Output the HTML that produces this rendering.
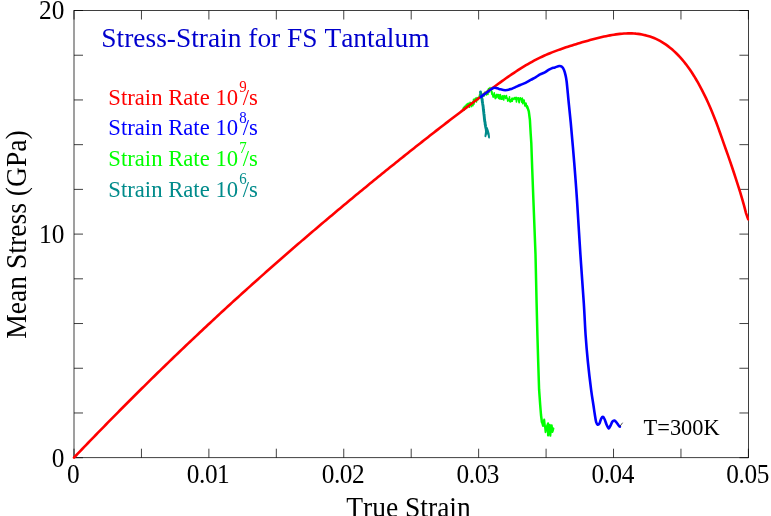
<!DOCTYPE html>
<html>
<head>
<meta charset="utf-8">
<title>Stress-Strain for FS Tantalum</title>
<style>
html,body{margin:0;padding:0;background:#fff;}
body{width:771px;height:516px;overflow:hidden;font-family:"Liberation Serif",serif;}
svg{display:block;will-change:transform;}
</style>
</head>
<body>
<svg width="771" height="516" viewBox="0 0 771 516">
<g stroke="#000" stroke-width="0.75" fill="none" shape-rendering="auto">
<rect x="74.00" y="10.50" width="674.40" height="447.20"/>
<path d="M74.00,457.70V448.70M74.00,10.50V19.50M141.44,457.70V448.70M141.44,10.50V19.50M208.88,457.70V448.70M208.88,10.50V19.50M276.32,457.70V448.70M276.32,10.50V19.50M343.76,457.70V448.70M343.76,10.50V19.50M411.20,457.70V448.70M411.20,10.50V19.50M478.64,457.70V448.70M478.64,10.50V19.50M546.08,457.70V448.70M546.08,10.50V19.50M613.52,457.70V448.70M613.52,10.50V19.50M680.96,457.70V448.70M680.96,10.50V19.50M748.40,457.70V448.70M748.40,10.50V19.50M74.00,457.70H83.00M748.40,457.70H739.40M74.00,412.98H83.00M748.40,412.98H739.40M74.00,368.26H83.00M748.40,368.26H739.40M74.00,323.54H83.00M748.40,323.54H739.40M74.00,278.82H83.00M748.40,278.82H739.40M74.00,234.10H83.00M748.40,234.10H739.40M74.00,189.38H83.00M748.40,189.38H739.40M74.00,144.66H83.00M748.40,144.66H739.40M74.00,99.94H83.00M748.40,99.94H739.40M74.00,55.22H83.00M748.40,55.22H739.40M74.00,10.50H83.00M748.40,10.50H739.40"/>
</g>
<g fill="none" stroke-linejoin="round" stroke-linecap="round">
<path d="M463.00,108.97L463.50,107.44L464.00,110.36L464.50,106.17L465.00,108.85L465.50,107.34L466.00,104.93L466.50,107.52L467.00,104.04L467.50,106.28L468.00,103.50L468.50,103.26L469.00,105.08L469.50,107.36L470.00,102.34L470.50,102.62L471.00,104.91L471.50,106.65L472.00,103.82L472.50,102.26L473.00,105.70L473.50,99.19L474.00,104.17L474.50,100.04L475.00,98.71L475.50,98.16L476.00,99.04L476.50,102.02L477.00,97.45L477.50,99.72L478.00,99.72L478.50,97.59L479.00,98.37L479.50,94.80L480.00,94.40L480.50,94.99L481.00,97.75L481.50,95.71L482.00,94.59L482.50,96.01L483.00,94.76L483.50,93.37L484.00,96.27L484.50,95.26L485.00,91.89L485.50,93.70L486.00,93.00L486.50,94.94L487.00,93.61L487.50,90.32L488.00,94.52L488.50,88.46L489.00,90.07L489.50,91.94L490.00,87.58L490.50,89.43" stroke="#00ff00" stroke-width="1.5"/>
<clipPath id="pc"><rect x="72" y="5" width="677.1" height="454.2"/></clipPath>
<path d="M74.00,457.60L76.00,455.51L78.00,453.42L80.00,451.33L82.00,449.25L84.00,447.17L86.00,445.09L88.00,443.02L90.00,440.94L92.00,438.88L94.00,436.81L96.00,434.75L98.00,432.70L100.00,430.64L102.00,428.59L104.00,426.54L106.00,424.50L108.00,422.46L110.00,420.42L112.00,418.39L114.00,416.36L116.00,414.33L118.00,412.30L120.00,410.28L122.00,408.27L124.00,406.25L126.00,404.24L128.00,402.24L130.00,400.23L132.00,398.23L134.00,396.24L136.00,394.24L138.00,392.25L140.00,390.27L142.00,388.29L144.00,386.31L146.00,384.33L148.00,382.36L150.00,380.39L152.00,378.43L154.00,376.46L156.00,374.51L158.00,372.55L160.00,370.60L162.00,368.65L164.00,366.71L166.00,364.77L168.00,362.83L170.00,360.90L172.00,358.97L174.00,357.04L176.00,355.11L178.00,353.19L180.00,351.28L182.00,349.37L184.00,347.46L186.00,345.55L188.00,343.65L190.00,341.75L192.00,339.85L194.00,337.96L196.00,336.07L198.00,334.19L200.00,332.30L202.00,330.43L204.00,328.55L206.00,326.68L208.00,324.81L210.00,322.95L212.00,321.09L214.00,319.23L216.00,317.37L218.00,315.52L220.00,313.67L222.00,311.83L224.00,309.99L226.00,308.15L228.00,306.31L230.00,304.48L232.00,302.66L234.00,300.83L236.00,299.01L238.00,297.19L240.00,295.38L242.00,293.56L244.00,291.76L246.00,289.95L248.00,288.15L250.00,286.35L252.00,284.55L254.00,282.76L256.00,280.97L258.00,279.19L260.00,277.40L262.00,275.62L264.00,273.85L266.00,272.07L268.00,270.30L270.00,268.53L272.00,266.77L274.00,265.01L276.00,263.25L278.00,261.49L280.00,259.74L282.00,257.99L284.00,256.24L286.00,254.50L288.00,252.76L290.00,251.02L292.00,249.28L294.00,247.55L296.00,245.82L298.00,244.09L300.00,242.37L302.00,240.64L304.00,238.92L306.00,237.21L308.00,235.49L310.00,233.78L312.00,232.07L314.00,230.37L316.00,228.66L318.00,226.96L320.00,225.26L322.00,223.57L324.00,221.88L326.00,220.18L328.00,218.50L330.00,216.81L332.00,215.13L334.00,213.45L336.00,211.77L338.00,210.09L340.00,208.42L342.00,206.75L344.00,205.08L346.00,203.41L348.00,201.75L350.00,200.09L352.00,198.43L354.00,196.77L356.00,195.12L358.00,193.47L360.00,191.82L362.00,190.17L364.00,188.53L366.00,186.88L368.00,185.24L370.00,183.61L372.00,181.97L374.00,180.34L376.00,178.71L378.00,177.08L380.00,175.45L382.00,173.83L384.00,172.21L386.00,170.59L388.00,168.97L390.00,167.36L392.00,165.75L394.00,164.14L396.00,162.53L398.00,160.93L400.00,159.33L402.00,157.73L404.00,156.13L406.00,154.53L408.00,152.94L410.00,151.35L412.00,149.76L414.00,148.18L416.00,146.59L418.00,145.01L420.00,143.44L422.00,141.86L424.00,140.29L426.00,138.72L428.00,137.15L430.00,135.58L432.00,134.02L434.00,132.46L436.00,130.90L438.00,129.35L440.00,127.79L442.00,126.24L444.00,124.70L446.00,123.15L448.00,121.61L450.00,120.07L452.00,118.53L454.00,117.00L456.00,115.47L458.00,113.94L460.00,112.41L462.00,110.89L464.00,109.37L466.00,107.85L468.00,106.34L470.00,104.82L472.00,103.31L474.00,101.81L476.00,100.31L478.00,98.81L480.00,97.31L482.00,95.81L484.00,94.32L486.00,92.84L488.00,91.35L490.00,89.88L492.00,88.40L494.00,86.94L496.00,85.48L498.00,84.02L500.00,82.58L502.00,81.15L504.00,79.72L506.00,78.31L508.00,76.91L510.00,75.53L512.00,74.17L514.00,72.82L516.00,71.49L518.00,70.18L520.00,68.90L522.00,67.64L524.00,66.40L526.00,65.20L528.00,64.03L530.00,62.88L532.00,61.77L534.00,60.70L536.00,59.65L538.00,58.64L540.00,57.66L542.00,56.71L544.00,55.79L546.00,54.91L548.00,54.05L550.00,53.22L552.00,52.41L554.00,51.63L556.00,50.88L558.00,50.14L560.00,49.42L562.00,48.71L564.00,48.02L566.00,47.35L568.00,46.69L570.00,46.04L572.00,45.40L574.00,44.77L576.00,44.15L578.00,43.54L580.00,42.94L582.00,42.35L584.00,41.77L586.00,41.20L588.00,40.64L590.00,40.09L592.00,39.55L594.00,39.02L596.00,38.51L598.00,38.01L600.00,37.52L602.00,37.05L604.00,36.60L606.00,36.17L608.00,35.77L610.00,35.38L612.00,35.02L614.00,34.69L616.00,34.39L618.00,34.13L620.00,33.90L622.00,33.71L624.00,33.56L626.00,33.45L628.00,33.39L630.00,33.38L632.00,33.42L634.00,33.51L636.00,33.67L638.00,33.88L640.00,34.15L642.00,34.49L644.00,34.90L646.00,35.38L648.00,35.93L650.00,36.56L652.00,37.27L654.00,38.06L656.00,38.93L658.00,39.89L660.00,40.95L662.00,42.09L664.00,43.33L666.00,44.67L668.00,46.12L670.00,47.67L672.00,49.32L674.00,51.10L676.00,52.98L678.00,54.99L680.00,57.13L682.00,59.40L684.00,61.79L686.00,64.33L688.00,67.01L690.00,69.84L692.00,72.81L694.00,75.94L696.00,79.23L698.00,82.68L700.00,86.30L702.00,90.09L704.00,94.05L706.00,98.19L708.00,102.51L710.00,107.02L712.00,111.73L714.00,116.64L716.00,121.77L718.00,127.13L720.00,132.69L722.00,138.38L724.00,144.10L726.00,149.76L728.00,155.41L730.00,161.13L732.00,166.99L734.00,173.01L736.00,179.16L738.00,185.40L740.00,191.72L742.00,198.28L744.00,205.41L746.00,213.12L748.00,218.85L748.40,219.30" stroke="#ff0000" stroke-width="2.6" clip-path="url(#pc)"/>
<path d="M491.40,88.42L491.53,92.30L491.67,93.19L491.80,92.48L491.93,94.52L492.07,91.73L492.20,94.23L492.33,94.02L492.47,94.29L492.60,93.95L492.93,96.32L493.26,97.12L493.59,94.70L493.92,95.98L494.25,92.82L494.58,96.62L494.92,96.53L495.25,98.68L495.58,97.94L495.91,95.15L496.24,95.93L496.57,97.73L496.90,94.33L497.25,96.79L497.59,95.14L497.94,94.86L498.29,94.53L498.63,98.50L498.98,94.92L499.33,95.59L499.67,96.39L500.02,99.08L500.37,94.65L500.71,96.72L501.06,97.28L501.41,99.15L501.75,98.79L502.10,99.04L502.43,95.85L502.76,96.71L503.09,96.49L503.43,99.53L503.76,100.03L504.09,95.61L504.42,95.84L504.75,96.25L505.08,96.35L505.41,97.85L505.74,98.53L506.07,96.80L506.41,95.44L506.74,97.86L507.07,97.67L507.40,98.87L507.75,101.18L508.09,99.86L508.44,99.03L508.79,99.75L509.13,100.22L509.48,96.88L509.83,101.76L510.17,101.24L510.52,101.92L510.87,101.63L511.21,99.51L511.56,99.69L511.91,98.19L512.25,101.31L512.60,98.25L512.95,98.21L513.29,98.94L513.64,98.61L513.99,99.54L514.33,97.86L514.68,97.50L515.03,98.28L515.37,97.93L515.72,99.34L516.07,97.38L516.41,102.06L516.76,100.54L517.11,97.87L517.45,98.38L517.80,98.85L518.15,99.01L518.50,97.72L518.85,101.85L519.20,102.73L519.55,99.84L519.90,100.01L520.25,97.85L520.60,98.01L520.95,99.42L521.30,99.05L521.65,102.27L522.00,98.60L522.36,98.18L522.71,103.74L523.07,101.72L523.42,99.94L523.78,102.52L524.13,99.98L524.49,103.15L524.84,106.02L525.20,105.73L525.43,105.14L525.67,103.05L525.90,103.99L526.13,103.21L526.37,106.95L526.60,105.95L526.83,107.67L527.07,105.50L527.30,106.80" stroke="#00ff00" stroke-width="1.6"/>
<path d="M527.30,106.80L528.80,111.40L529.90,119.80L530.70,134.00L531.30,143.00L532.20,168.50L533.40,200.00L535.50,254.30L536.60,303.10L537.40,335.00L538.20,362.00L539.10,389.70L540.20,405.00L541.00,415.00L541.90,422.00" stroke="#00ff00" stroke-width="2.5"/>
<path d="M541.90,422.00L543.00,426.00L544.20,419.60L545.60,432.10L546.80,426.50L548.00,423.30L548.00,435.50L549.00,428.00L549.70,424.70L550.30,435.80L551.00,429.00L551.70,425.30L552.60,431.50L553.40,428.40L552.40,432.00" stroke="#00ff00" stroke-width="2.1"/>
<path d="M480.50,92.02L480.67,93.34L480.83,94.25L481.00,94.85L481.14,95.47L481.28,96.14L481.42,96.72L481.56,96.87L481.70,97.82L481.81,98.29L481.92,98.59L482.03,99.22L482.14,100.10L482.25,100.71L482.36,101.77L482.47,102.67L482.58,102.79L482.69,103.91L482.80,104.59L482.87,105.18L482.95,105.22L483.02,105.70L483.09,106.33L483.17,106.93L483.24,107.56L483.31,108.61L483.39,109.51L483.46,110.08L483.53,110.35L483.61,111.15L483.68,111.92L483.75,111.83L483.83,113.03L483.90,113.91L483.97,114.43L484.04,115.05L484.11,115.43L484.18,115.78L484.25,117.04L484.32,117.23L484.39,118.35L484.46,119.17L484.53,119.25L484.60,119.90L484.70,121.11L484.80,121.56L484.90,121.67L485.00,122.29L485.10,122.98L485.20,124.40L485.32,124.94L485.43,124.91L485.55,126.23L485.67,127.01L485.78,127.32L485.90,127.65L486.02,128.49L486.14,128.71L486.26,129.23L486.38,130.83L486.50,131.00" stroke="#008b8b" stroke-width="2.9"/>
<path d="M486.20,129.50L485.90,132.50L485.40,136.20L486.30,133.00L486.90,130.50L487.40,133.60L487.90,131.30L488.50,134.50L489.10,137.50L488.70,133.80L487.80,130.60L487.00,128.20" stroke="#008b8b" stroke-width="1.9"/>
<path d="M480.90,96.90C481.75,96.25 484.22,94.32 486.00,93.00C487.78,91.68 490.13,89.87 491.60,89.00C493.07,88.13 493.57,87.82 494.80,87.80C496.03,87.78 497.25,88.50 499.00,88.90C500.75,89.30 503.22,90.20 505.30,90.20C507.38,90.20 509.88,89.37 511.50,88.90C513.12,88.43 513.55,88.05 515.00,87.40C516.45,86.75 518.45,85.77 520.20,85.00C521.95,84.23 523.75,83.65 525.50,82.80C527.25,81.95 528.97,80.83 530.70,79.90C532.43,78.97 534.33,78.12 535.90,77.20C537.47,76.28 538.70,75.15 540.10,74.40C541.50,73.65 542.90,73.45 544.30,72.70C545.70,71.95 547.28,70.62 548.50,69.90C549.72,69.18 550.52,68.82 551.60,68.40C552.68,67.98 553.72,67.80 555.00,67.40C556.28,67.00 558.15,66.10 559.30,66.00C560.45,65.90 561.12,66.15 561.90,66.80C562.68,67.45 563.40,68.52 564.00,69.90C564.60,71.28 565.05,73.08 565.50,75.10C565.95,77.12 566.18,77.60 566.70,82.00C567.22,86.40 567.93,94.80 568.60,101.50C569.27,108.20 569.98,114.65 570.70,122.20C571.42,129.75 572.17,138.18 572.90,146.80C573.63,155.42 574.42,165.03 575.10,173.90C575.78,182.77 576.12,186.60 577.00,200.00C577.88,213.40 579.27,237.12 580.40,254.30C581.53,271.48 582.93,289.65 583.80,303.10C584.67,316.55 584.92,325.18 585.60,335.00C586.28,344.82 586.98,352.88 587.90,362.00C588.82,371.12 590.18,382.53 591.10,389.70C592.02,396.87 592.80,400.98 593.40,405.00C594.00,409.02 594.25,410.98 594.70,413.80C595.15,416.62 595.58,420.08 596.10,421.90C596.62,423.72 597.23,424.47 597.80,424.70C598.37,424.93 598.93,424.32 599.50,423.30C600.07,422.28 600.63,419.67 601.20,418.60C601.77,417.53 602.33,416.80 602.90,416.90C603.47,417.00 603.98,417.90 604.60,419.20C605.22,420.50 605.93,423.17 606.60,424.70C607.27,426.23 607.98,428.18 608.60,428.40C609.22,428.62 609.67,427.13 610.30,426.00C610.93,424.87 611.72,422.50 612.40,421.60C613.08,420.70 613.73,420.48 614.40,420.60C615.07,420.72 615.72,421.52 616.40,422.30C617.08,423.08 617.93,424.57 618.50,425.30C619.07,426.03 619.58,426.47 619.80,426.70" stroke="#0000ff" stroke-width="2.6"/>
<path d="M620.2,426 L622.4,423" stroke="#222" stroke-width="0.8"/>
</g>
<g font-family="'Liberation Serif', serif" fill="#000" style="font-kerning:none">
<text transform="translate(73.20,483.30) scale(1,1.040)" font-size="25.30" text-anchor="middle" letter-spacing="-0.45">0</text>
<text transform="translate(208.08,483.30) scale(1,1.040)" font-size="25.30" text-anchor="middle" letter-spacing="-0.45">0.01</text>
<text transform="translate(342.96,483.30) scale(1,1.040)" font-size="25.30" text-anchor="middle" letter-spacing="-0.45">0.02</text>
<text transform="translate(477.84,483.30) scale(1,1.040)" font-size="25.30" text-anchor="middle" letter-spacing="-0.45">0.03</text>
<text transform="translate(612.72,483.30) scale(1,1.040)" font-size="25.30" text-anchor="middle" letter-spacing="-0.45">0.04</text>
<text transform="translate(747.60,483.30) scale(1,1.040)" font-size="25.30" text-anchor="middle" letter-spacing="-0.45">0.05</text>
<text transform="translate(64.30,466.70) scale(1,1.040)" font-size="25.30" text-anchor="end">0</text>
<text transform="translate(64.30,242.80) scale(1,1.040)" font-size="25.30" text-anchor="end">10</text>
<text transform="translate(64.30,18.90) scale(1,1.040)" font-size="25.30" text-anchor="end">20</text>
<text transform="translate(408.50,516.60) scale(1,1.060)" font-size="27.50" text-anchor="middle">True Strain</text>
<text transform="translate(26.30,234.50) rotate(-90) scale(1,1.060)" font-size="27.60" text-anchor="middle">Mean Stress (GPa)</text>
<text transform="translate(101.30,47.40) scale(1,1.030)" font-size="27.42" text-anchor="start" fill="#0000cd">Stress-Strain for FS Tantalum</text>
<text transform="translate(108.30,104.70) scale(1,1.060)" font-size="22.70" text-anchor="start" fill="#ff0000">Strain Rate 10</text>
<text transform="translate(239.20,91.90) scale(1,1.060)" font-size="14.90" text-anchor="start" fill="#ff0000">9</text>
<text transform="translate(242.80,104.70) scale(1,1.060)" font-size="22.70" text-anchor="start" fill="#ff0000">/s</text>
<text transform="translate(108.30,135.42) scale(1,1.060)" font-size="22.70" text-anchor="start" fill="#0000ff">Strain Rate 10</text>
<text transform="translate(239.20,122.62) scale(1,1.060)" font-size="14.90" text-anchor="start" fill="#0000ff">8</text>
<text transform="translate(242.80,135.42) scale(1,1.060)" font-size="22.70" text-anchor="start" fill="#0000ff">/s</text>
<text transform="translate(108.30,166.14) scale(1,1.060)" font-size="22.70" text-anchor="start" fill="#00ff00">Strain Rate 10</text>
<text transform="translate(239.20,153.34) scale(1,1.060)" font-size="14.90" text-anchor="start" fill="#00ff00">7</text>
<text transform="translate(242.80,166.14) scale(1,1.060)" font-size="22.70" text-anchor="start" fill="#00ff00">/s</text>
<text transform="translate(108.30,196.86) scale(1,1.060)" font-size="22.70" text-anchor="start" fill="#008b8b">Strain Rate 10</text>
<text transform="translate(239.20,184.06) scale(1,1.060)" font-size="14.90" text-anchor="start" fill="#008b8b">6</text>
<text transform="translate(242.80,196.86) scale(1,1.060)" font-size="22.70" text-anchor="start" fill="#008b8b">/s</text>
<text transform="translate(643.60,435.30) scale(1,1.040)" font-size="22.40" text-anchor="start">T=300K</text>
</g>
</svg>
</body>
</html>
